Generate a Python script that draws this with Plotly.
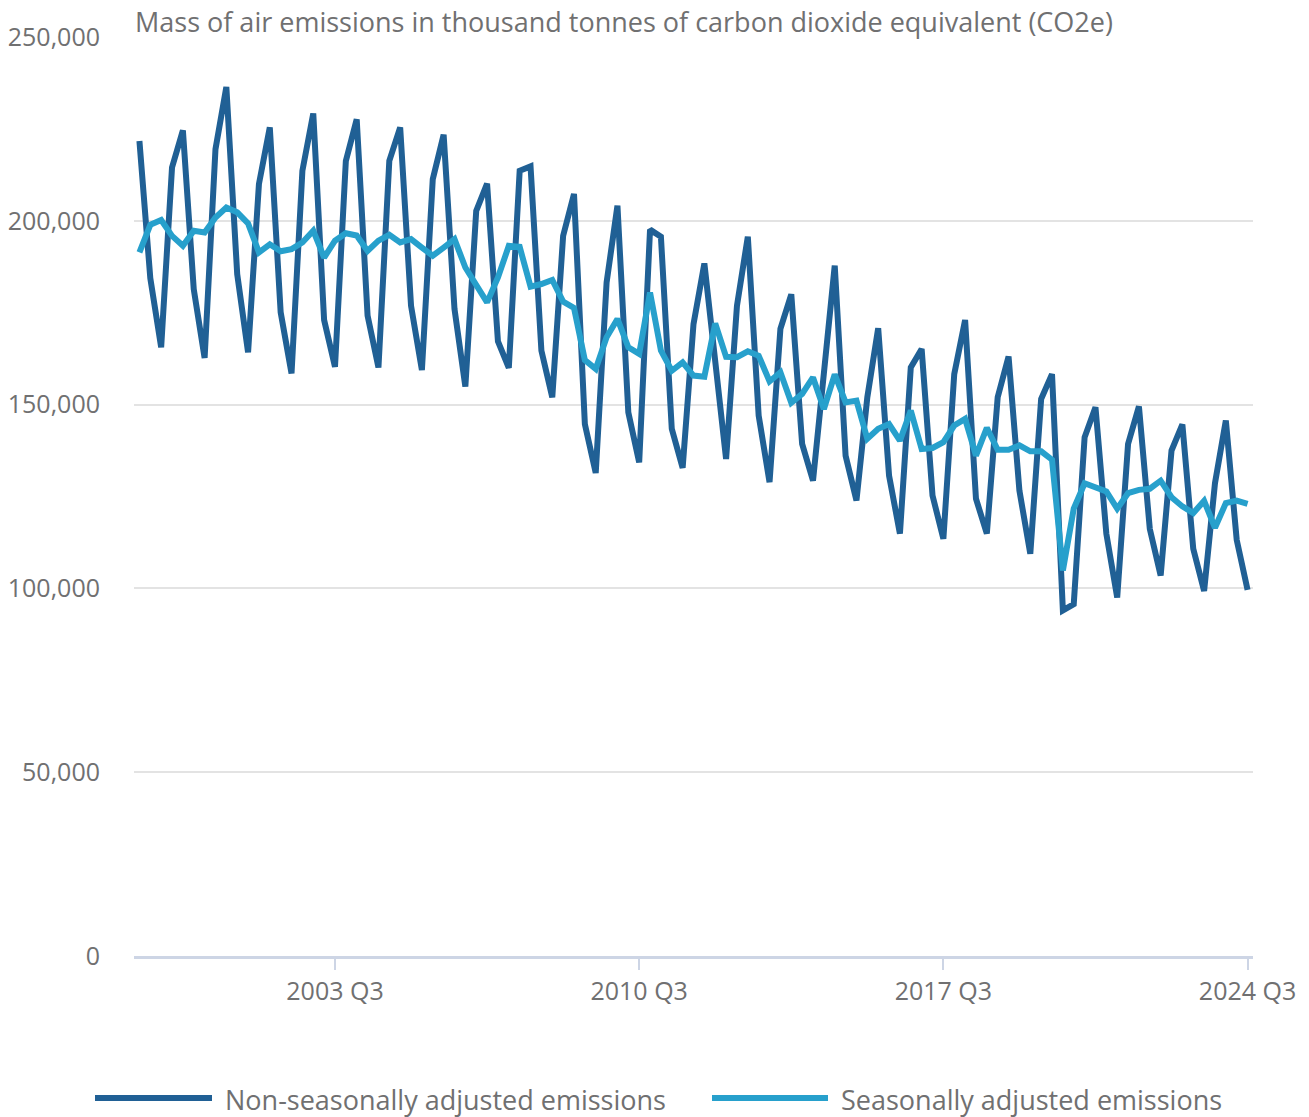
import plotly.graph_objects as go

# Quarterly periods 1999 Q1 .. 2024 Q3
start_year = 1999
n_points = 103
quarters = [f"{start_year + i // 4} Q{i % 4 + 1}" for i in range(n_points)]

# Thousand tonnes CO2e
non_seasonal = [
    221.7, 184.4, 165.6, 214.5, 224.6, 181.4, 162.7, 219.5, 236.4, 185.5,
    164.2, 210.0, 225.4, 175.1, 158.5, 213.6, 229.2, 173.0, 160.3, 216.3,
    227.6, 174.2, 160.1, 216.3, 225.4, 176.9, 159.4, 211.3, 223.4, 176.0,
    154.9, 202.7, 210.1, 167.2, 160.0, 213.6, 214.8, 164.7, 152.0, 195.9,
    207.3, 144.7, 131.4, 183.2, 204.1, 147.9, 134.3, 197.6, 195.7, 143.4,
    132.8, 171.9, 188.4, 161.5, 135.2, 176.9, 195.7, 147.0, 128.9, 170.6,
    180.0, 139.3, 129.3, 158.5, 187.8, 136.1, 123.9, 152.0, 170.8, 130.7,
    114.9, 160.1, 165.1, 125.3, 113.5, 158.3, 173.0, 124.4, 114.9, 152.0,
    163.1, 126.6, 109.4, 151.5, 158.3, 94.0, 95.7, 141.1, 149.3, 114.9,
    97.5, 139.3, 149.5, 116.2, 103.5, 137.5, 144.6, 110.8, 99.3, 128.6,
    145.7, 113.2, 99.6,
]
seasonal = [
    191.4, 198.9, 200.2, 195.9, 193.2, 197.3, 196.8, 200.9, 203.6, 202.3,
    199.3, 191.4, 193.6, 191.7, 192.3, 194.1, 197.3, 190.0, 194.6, 196.6,
    196.0, 191.8, 194.6, 196.2, 194.1, 195.0, 192.7, 190.5, 192.7, 195.0,
    187.3, 182.8, 177.8, 184.6, 193.2, 192.9, 182.1, 182.8, 183.9, 178.0,
    176.3, 162.1, 159.7, 168.3, 173.3, 165.6, 163.8, 180.5, 164.7, 159.2,
    161.5, 157.9, 157.6, 172.1, 163.0, 162.9, 164.5, 163.3, 156.3, 158.8,
    150.5, 152.9, 157.4, 148.8, 158.2, 150.6, 151.1, 140.7, 143.4, 144.7,
    140.2, 148.4, 137.9, 138.2, 139.8, 144.3, 146.1, 136.1, 143.7, 137.7,
    137.7, 138.9, 137.3, 137.3, 135.0, 104.9, 121.7, 128.6, 127.5, 126.4,
    121.7, 125.9, 126.8, 127.1, 129.3, 124.8, 122.3, 120.5, 123.8, 116.5,
    123.2, 123.9, 123.0,
]
non_seasonal = [v * 1000 for v in non_seasonal]
seasonal = [v * 1000 for v in seasonal]

series_names = ["Non-seasonally adjusted emissions", "Seasonally adjusted emissions"]
series_colors = ["#206095", "#27a0cc"]
x_ticks = ["2003 Q3", "2010 Q3", "2017 Q3", "2024 Q3"]
y_ticks = [0, 50000, 100000, 150000, 200000, 250000]
y_title = "Mass of air emissions in thousand tonnes of carbon dioxide equivalent (CO2e)"

TEXT = "#707071"
FONT = "Open Sans"

fig = go.Figure()
for name, vals, col in zip(series_names, [non_seasonal, seasonal], series_colors):
    fig.add_trace(go.Scatter(x=quarters, y=vals, mode="lines", name=name,
                             line=dict(color=col, width=6), showlegend=False))

OFF = 8  # page body margin
W, H = 1309 - OFF, 1117 - OFF
L, R, T, B = 134 - OFF, 1309 - 1253, 37 - OFF, 1117 - 956
pw, ph = W - L - R, H - T - B

def px(xp):  # reference-picture pixel -> paper x
    return (xp - OFF - L) / pw

def py(yp):  # reference-picture pixel -> paper y
    return (H - B - (yp - OFF)) / ph

fig.update_layout(
    width=W, height=H,
    margin=dict(l=L, r=R, t=T, b=B, autoexpand=False),
    paper_bgcolor="white", plot_bgcolor="white",
    font=dict(family=FONT, size=25, color=TEXT),
    xaxis=dict(type="category", range=[-0.5, n_points - 0.5], automargin=False,
               tickmode="array", tickvals=x_ticks, ticktext=x_ticks,
               showgrid=False, showline=True, linecolor="#cdd5e5", linewidth=3,
               ticks="outside", ticklen=11, tickwidth=2, tickcolor="#cdd5e5",
               tickfont=dict(size=25, color=TEXT), zeroline=False),
    yaxis=dict(range=[0, 250000], tickvals=y_ticks, tickformat=",", automargin=False,
               showgrid=True, gridcolor="#e3e3e3", gridwidth=2,
               zeroline=False, showline=False, ticks="",
               ticklabelstandoff=33, tickfont=dict(size=25, color=TEXT)),
    hovermode=False,
)

annotations = [dict(text=y_title, xref="paper", yref="paper", x=px(133), y=py(22),
                    xanchor="left", yanchor="middle", showarrow=False,
                    font=dict(size=27, color=TEXT, family=FONT))]
shapes = []
legend_items = [(95, 212, 223), (712, 828, 839)]
for (x0, x1, tx), name, col in zip(legend_items, series_names, series_colors):
    shapes.append(dict(type="line", xref="paper", yref="paper",
                       x0=px(x0), x1=px(x1), y0=py(1098), y1=py(1098),
                       line=dict(color=col, width=6)))
    annotations.append(dict(text=name, xref="paper", yref="paper", x=px(tx), y=py(1099),
                            xanchor="left", yanchor="middle", showarrow=False,
                            font=dict(size=27, color=TEXT, family=FONT)))
fig.update_layout(annotations=annotations, shapes=shapes)

fig.write_html("out.html")
